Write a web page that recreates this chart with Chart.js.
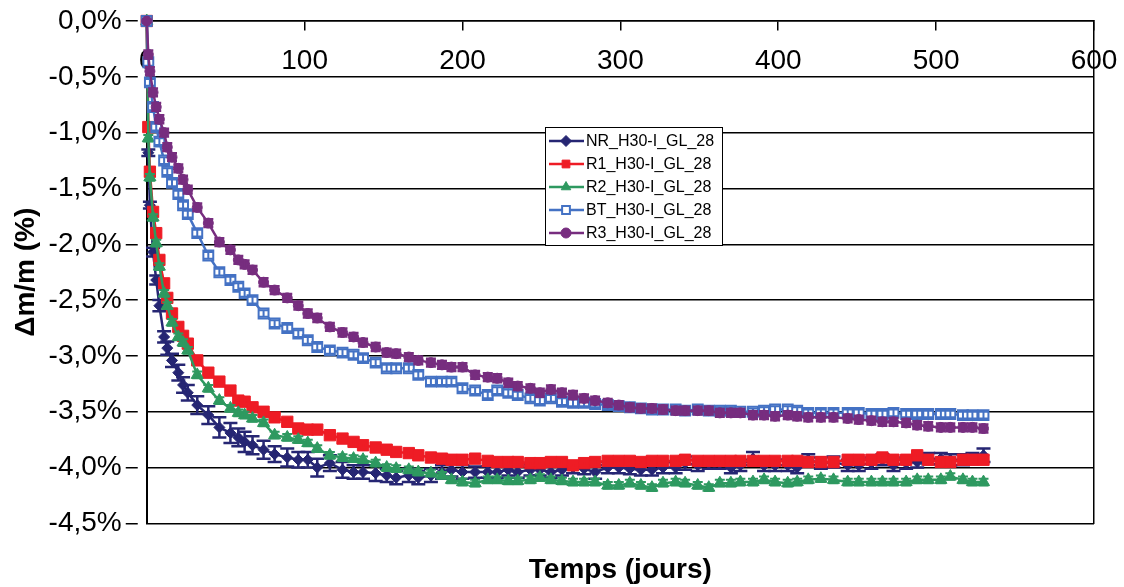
<!DOCTYPE html>
<html>
<head>
<meta charset="utf-8">
<script src="https://cdn.jsdelivr.net/npm/chart.js@4.4.1/dist/chart.umd.min.js"></script>
<style>
html,body{margin:0;padding:0;background:#fff;}
canvas{display:block;}
</style>
</head>
<body>
<canvas id="c" width="1124" height="587"></canvas>
<script>
// ---------------- DATA ----------------
const DAYS = [
  0,1,2,4,6,8,11,13,16,20,
  23,26,32,39,46,53,58,62,67,74,
  81,89,96,102,108,116,124,131,137,145,
  152,158,166,172,180,187,193,200,208,216,
  222,229,235,243,249,256,263,270,277,284,
  292,299,306,313,320,327,335,341,349,356,
  363,370,376,384,391,398,406,412,419,427,
  435,444,451,459,466,473,481,488,495,503,
  509,517,523,530
];

const LABELS = ['NR_H30-I_GL_28','R1_H30-I_GL_28','R2_H30-I_GL_28','BT_H30-I_GL_28','R3_H30-I_GL_28'];

const NR = [
  0,-1.18,-1.65,-2.07,-2.32,-2.55,-2.83,-2.93,-3.04,-3.15,
  -3.26,-3.33,-3.44,-3.53,-3.64,-3.69,-3.73,-3.77,-3.80,-3.84,
  -3.88,-3.91,-3.93,-3.93,-4.00,-3.96,-4.02,-4.04,-4.04,-4.05,
  -4.07,-4.09,-4.07,-4.09,-4.07,-4.04,-4.02,-4.04,-4.04,-4.04,
  -4.04,-4.02,-4.04,-4.02,-4.02,-4.04,-4.02,-4.00,-4.01,-4.04,
  -4.00,-4.00,-4.01,-4.02,-4.02,-4.00,-4.00,-3.96,-3.98,-3.96,
  -3.96,-4.00,-3.98,-3.92,-3.98,-3.98,-3.98,-4.00,-3.93,-3.96,
  -3.95,-3.98,-3.98,-3.96,-3.93,-3.98,-3.96,-3.95,-3.92,-3.92,
  -3.93,-3.93,-3.92,-3.89
];
const R1 = [
  0,-0.95,-1.35,-1.71,-1.90,-2.14,-2.35,-2.48,-2.62,-2.74,
  -2.82,-2.89,-3.04,-3.15,-3.23,-3.31,-3.40,-3.41,-3.46,-3.50,
  -3.55,-3.59,-3.65,-3.66,-3.66,-3.71,-3.74,-3.77,-3.80,-3.82,
  -3.84,-3.86,-3.87,-3.89,-3.91,-3.92,-3.93,-3.93,-3.92,-3.94,
  -3.95,-3.95,-3.95,-3.96,-3.96,-3.95,-3.95,-3.98,-3.96,-3.95,
  -3.94,-3.94,-3.94,-3.95,-3.94,-3.94,-3.94,-3.93,-3.94,-3.94,
  -3.94,-3.94,-3.94,-3.94,-3.94,-3.94,-3.94,-3.94,-3.95,-3.95,
  -3.95,-3.93,-3.93,-3.93,-3.91,-3.93,-3.93,-3.89,-3.93,-3.95,
  -3.95,-3.93,-3.93,-3.93
];
const R2 = [
  0,-1.05,-1.40,-1.76,-1.99,-2.20,-2.44,-2.55,-2.70,-2.83,
  -2.88,-2.95,-3.17,-3.29,-3.40,-3.47,-3.51,-3.53,-3.56,-3.60,
  -3.71,-3.73,-3.75,-3.78,-3.83,-3.89,-3.91,-3.92,-3.93,-3.96,
  -4.00,-4.01,-4.02,-4.04,-4.05,-4.07,-4.11,-4.13,-4.14,-4.11,
  -4.11,-4.12,-4.12,-4.11,-4.09,-4.11,-4.12,-4.13,-4.13,-4.13,
  -4.16,-4.16,-4.14,-4.16,-4.18,-4.14,-4.13,-4.14,-4.16,-4.18,
  -4.14,-4.14,-4.13,-4.13,-4.11,-4.13,-4.14,-4.13,-4.11,-4.10,
  -4.11,-4.13,-4.13,-4.13,-4.13,-4.13,-4.13,-4.11,-4.11,-4.11,
  -4.08,-4.11,-4.13,-4.13
];
const BT = [
  0,-0.37,-0.55,-0.77,-0.95,-1.08,-1.25,-1.35,-1.45,-1.55,
  -1.65,-1.73,-1.90,-2.10,-2.25,-2.32,-2.38,-2.44,-2.50,-2.62,
  -2.71,-2.75,-2.80,-2.86,-2.92,-2.95,-2.97,-2.99,-3.02,-3.06,
  -3.11,-3.11,-3.11,-3.17,-3.23,-3.23,-3.23,-3.29,-3.31,-3.35,
  -3.31,-3.33,-3.35,-3.38,-3.40,-3.38,-3.41,-3.42,-3.42,-3.43,
  -3.44,-3.45,-3.46,-3.47,-3.48,-3.48,-3.48,-3.49,-3.48,-3.49,
  -3.49,-3.49,-3.50,-3.50,-3.49,-3.48,-3.48,-3.49,-3.51,-3.51,
  -3.51,-3.51,-3.51,-3.52,-3.52,-3.51,-3.52,-3.52,-3.52,-3.52,
  -3.52,-3.53,-3.53,-3.53
];
const R3 = [
  0,-0.30,-0.45,-0.64,-0.77,-0.88,-1.00,-1.13,-1.22,-1.32,
  -1.42,-1.51,-1.67,-1.81,-1.98,-2.05,-2.14,-2.18,-2.23,-2.34,
  -2.41,-2.48,-2.55,-2.62,-2.66,-2.74,-2.79,-2.83,-2.88,-2.92,
  -2.97,-2.98,-3.01,-3.04,-3.06,-3.08,-3.10,-3.10,-3.17,-3.19,
  -3.20,-3.24,-3.27,-3.29,-3.33,-3.30,-3.33,-3.35,-3.38,-3.40,
  -3.42,-3.44,-3.46,-3.47,-3.47,-3.48,-3.49,-3.49,-3.49,-3.49,
  -3.51,-3.51,-3.51,-3.53,-3.53,-3.54,-3.53,-3.54,-3.55,-3.55,
  -3.55,-3.56,-3.57,-3.58,-3.59,-3.59,-3.60,-3.62,-3.63,-3.64,
  -3.64,-3.64,-3.64,-3.65
];

// error bar half-heights (in % points)
const NR_ERR = [
  0,0.03,0.03,0.04,0.04,0.05,0.05,0.06,0.06,0.07,
  0.07,0.07,0.08,0.08,0.09,0.09,0.08,0.09,0.08,0.08,
  0.07,0.08,0.07,0.07,0.08,0.07,0.07,0.06,0.06,0.07,
  0.06,0.06,0.06,0.06,0.06,0.06,0.06,0.06,0.05,0.05,
  0.05,0.05,0.05,0.05,0.05,0.05,0.05,0.05,0.05,0.06,
  0.05,0.05,0.05,0.05,0.05,0.05,0.05,0.06,0.05,0.05,
  0.05,0.05,0.05,0.06,0.05,0.05,0.05,0.05,0.05,0.05,
  0.05,0.05,0.05,0.05,0.05,0.05,0.05,0.05,0.05,0.05,
  0.05,0.05,0.05,0.06
];
const R1_ERR = [
  0,0.02,0.02,0.02,0.02,0.02,0.02,0.02,0.02,0.02,
  0.02,0.02,0.02,0.02,0.02,0.02,0.02,0.02,0.02,0.02,
  0.02,0.02,0.02,0.02,0.02,0.02,0.02,0.02,0.02,0.02,
  0.02,0.02,0.02,0.02,0.02,0.02,0.02,0.02,0.02,0.02,
  0.02,0.02,0.02,0.02,0.02,0.02,0.02,0.02,0.02,0.02,
  0.02,0.02,0.02,0.02,0.02,0.02,0.02,0.02,0.02,0.02,
  0.02,0.02,0.02,0.02,0.02,0.02,0.02,0.02,0.02,0.02,
  0.02,0.02,0.02,0.02,0.02,0.02,0.02,0.02,0.02,0.02,
  0.02,0.02,0.02,0.02
];
const R2_ERR = [
  0,0.03,0.03,0.03,0.03,0.03,0.03,0.03,0.03,0.03,
  0.03,0.03,0.03,0.03,0.03,0.03,0.03,0.03,0.03,0.03,
  0.03,0.03,0.03,0.03,0.03,0.03,0.03,0.03,0.03,0.03,
  0.03,0.03,0.03,0.03,0.03,0.03,0.03,0.03,0.03,0.03,
  0.03,0.03,0.03,0.03,0.03,0.03,0.03,0.03,0.03,0.03,
  0.03,0.03,0.03,0.03,0.03,0.03,0.03,0.03,0.03,0.03,
  0.03,0.03,0.03,0.03,0.03,0.03,0.03,0.03,0.03,0.03,
  0.03,0.03,0.03,0.03,0.03,0.03,0.03,0.03,0.03,0.03,
  0.03,0.03,0.03,0.03
];
const BT_ERR = [
  0,0.03,0.03,0.03,0.03,0.03,0.03,0.03,0.03,0.03,
  0.03,0.03,0.03,0.03,0.03,0.03,0.03,0.03,0.03,0.03,
  0.03,0.03,0.03,0.03,0.03,0.03,0.03,0.03,0.03,0.03,
  0.03,0.03,0.03,0.03,0.03,0.03,0.03,0.03,0.03,0.03,
  0.03,0.03,0.03,0.03,0.03,0.03,0.03,0.03,0.03,0.03,
  0.03,0.03,0.03,0.03,0.03,0.03,0.03,0.03,0.03,0.03,
  0.03,0.03,0.03,0.03,0.03,0.03,0.03,0.03,0.03,0.03,
  0.03,0.03,0.03,0.03,0.03,0.03,0.03,0.03,0.03,0.03,
  0.03,0.03,0.03,0.03
];
const R3_ERR = [
  0,0.035,0.035,0.035,0.035,0.035,0.035,0.035,0.035,0.035,
  0.035,0.035,0.035,0.035,0.035,0.035,0.035,0.035,0.035,0.035,
  0.035,0.035,0.035,0.035,0.035,0.035,0.035,0.035,0.035,0.035,
  0.035,0.035,0.035,0.035,0.035,0.035,0.035,0.035,0.035,0.035,
  0.035,0.035,0.035,0.035,0.035,0.035,0.035,0.035,0.035,0.035,
  0.035,0.035,0.035,0.035,0.035,0.035,0.035,0.035,0.035,0.035,
  0.035,0.035,0.035,0.035,0.035,0.035,0.035,0.035,0.035,0.035,
  0.035,0.035,0.035,0.035,0.035,0.035,0.035,0.035,0.035,0.035,
  0.035,0.035,0.035,0.035
];

const X_MIN = 0, X_MAX = 600, X_STEP = 100;
const Y_MIN = -4.5, Y_MAX = 0, Y_STEP = 0.5;
const X_TITLE = 'Temps (jours)';
const Y_TITLE = 'Δm/m (%)';

// ---------------- CHART ----------------
const FONT = "'Liberation Sans', Arial, sans-serif";
const toXY = vals => DAYS.map((d, i) => ({x: d, y: vals[i]}));

const STYLES = [
  {color:'#262673', style:'rectRot',  radius:5.5, bg:'#262673', bw:1, cap:7, ew:2.5, order:5},
  {color:'#EE1C25', style:'rect',     radius:8,   bg:'#EE1C25', bw:1, cap:5, ew:2,   order:4},
  {color:'#2E9960', style:'triangle', radius:7,   bg:'#2E9960', bw:1, cap:5, ew:2,   order:3},
  {color:'#4472C4', style:'rect',     radius:7,   bg:'#FFFFFF', bw:2, cap:5, ew:2,   order:2},
  {color:'#772D7F', style:'circle',   radius:5,   bg:'#772D7F', bw:1, cap:5, ew:2.5, order:1}
];
const VALUES = [NR, R1, R2, BT, R3];
const ERRORS = [NR_ERR, R1_ERR, R2_ERR, BT_ERR, R3_ERR];

const datasets = LABELS.map((lab, k) => ({
  label: lab,
  data: toXY(VALUES[k]),
  errors: ERRORS[k],
  errorCap: STYLES[k].cap,
  errorWidth: STYLES[k].ew,
  borderColor: STYLES[k].color,
  backgroundColor: STYLES[k].bg,
  borderWidth: 2.5,
  pointStyle: STYLES[k].style,
  pointRadius: STYLES[k].radius,
  pointBackgroundColor: STYLES[k].bg,
  pointBorderColor: STYLES[k].color,
  pointBorderWidth: STYLES[k].bw,
  tension: 0,
  order: STYLES[k].order,
  clip: 10
}));

const errorBars = {
  id: 'errorBars',
  afterDatasetDraw(chart, args) {
    const ds = chart.data.datasets[args.index];
    if (!ds.errors) return;
    const ctx = chart.ctx, ys = chart.scales.y;
    ctx.save();
    ctx.strokeStyle = ds.borderColor;
    ctx.lineWidth = ds.errorWidth;
    args.meta.data.forEach((pt, i) => {
      const e = ds.errors[i];
      if (!e) return;
      const v = ds.data[i].y;
      const x = pt.x, y1 = ys.getPixelForValue(v + e), y2 = ys.getPixelForValue(v - e);
      const c = ds.errorCap;
      ctx.beginPath();
      ctx.moveTo(x, y1); ctx.lineTo(x, y2);
      ctx.moveTo(x - c, y1); ctx.lineTo(x + c, y1);
      ctx.moveTo(x - c, y2); ctx.lineTo(x + c, y2);
      ctx.stroke();
    });
    ctx.restore();
  }
};

function drawMarker(ctx, style, r, x, y) {
  ctx.beginPath();
  if (style === 'circle') {
    ctx.arc(x, y, r, 0, Math.PI * 2);
  } else if (style === 'rect') {
    const s = Math.SQRT1_2 * r;
    ctx.rect(x - s, y - s, 2 * s, 2 * s);
  } else if (style === 'rectRot') {
    ctx.moveTo(x, y - r); ctx.lineTo(x + r, y); ctx.lineTo(x, y + r); ctx.lineTo(x - r, y); ctx.closePath();
  } else if (style === 'triangle') {
    const t = 2 * Math.PI / 3;
    ctx.moveTo(x, y - r);
    ctx.lineTo(x + Math.sin(t) * r, y - Math.cos(t) * r);
    ctx.lineTo(x + Math.sin(2 * t) * r, y - Math.cos(2 * t) * r);
    ctx.closePath();
  }
  ctx.fill();
  ctx.stroke();
}

const boxLegend = {
  id: 'boxLegend',
  afterDraw(chart) {
    const ctx = chart.ctx;
    const bx = 545, by = 127, bw = 177, bh = 118;
    ctx.save();
    ctx.fillStyle = '#fff';
    ctx.fillRect(bx, by, bw, bh);
    ctx.strokeStyle = '#000';
    ctx.lineWidth = 1;
    ctx.strokeRect(bx + 0.5, by + 0.5, bw, bh);
    ctx.font = '16px ' + FONT;
    ctx.textBaseline = 'middle';
    ctx.textAlign = 'left';
    chart.data.datasets.forEach((ds, i) => {
      const y = by + 14 + i * 23;
      ctx.strokeStyle = ds.borderColor;
      ctx.lineWidth = 2.5;
      ctx.beginPath(); ctx.moveTo(bx + 4, y); ctx.lineTo(bx + 39, y); ctx.stroke();
      ctx.fillStyle = ds.pointBackgroundColor;
      ctx.strokeStyle = ds.pointBorderColor;
      ctx.lineWidth = ds.pointBorderWidth;
      drawMarker(ctx, ds.pointStyle, Math.min(ds.pointRadius, 5.5), bx + 21, y);
      ctx.fillStyle = '#000';
      ctx.fillText(ds.label, bx + 41, y + 1);
    });
    ctx.restore();
  }
};

new Chart(document.getElementById('c'), {
  type: 'line',
  data: { datasets },
  plugins: [errorBars, boxLegend],
  options: {
    responsive: false,
    animation: false,
    devicePixelRatio: 1,
    layout: { padding: { left: 2, right: 30, top: 21, bottom: 0 } },
    plugins: { legend: { display: false }, tooltip: { enabled: false } },
    scales: {
      x: {
        type: 'linear',
        position: { y: 0 },
        min: X_MIN, max: X_MAX,
        ticks: { stepSize: X_STEP, color: '#000', font: { family: FONT, size: 28 }, padding: 2, maxRotation: 0 },
        grid: { drawOnChartArea: false, drawTicks: true, tickLength: 21, tickBorderDash: [9, 100], color: '#000', lineWidth: 1.5 },
        border: { display: true, color: '#000', width: 1.5 }
      },
      xb: {
        type: 'linear', axis: 'x', position: 'bottom',
        min: X_MIN, max: X_MAX,
        ticks: { display: false },
        grid: { display: false, drawTicks: false },
        border: { display: false },
        title: { display: true, text: X_TITLE, color: '#000', font: { family: FONT, size: 28, weight: 'bold' }, padding: { top: 30, bottom: 0 } }
      },
      y: {
        type: 'linear', position: 'left',
        min: Y_MIN, max: Y_MAX,
        ticks: {
          stepSize: Y_STEP, color: '#000', padding: 4,
          font: { family: FONT, size: 28 },
          callback: v => (Math.abs(v) < 1e-9 ? 0 : v).toFixed(1).replace('.', ',') + '%'
        },
        grid: { color: '#000', lineWidth: 1.5, drawTicks: true, tickLength: 21, tickBorderDash: [12, 100], tickBorderDashOffset: 0, tickColor: '#000' },
        border: { display: true, color: '#000', width: 2 },
        title: { display: true, text: Y_TITLE, color: '#000', font: { family: FONT, size: 28, weight: 'bold' }, padding: { top: 7, bottom: 2 } }
      },
      yr: {
        type: 'linear', axis: 'y', position: 'right',
        min: Y_MIN, max: Y_MAX,
        ticks: { display: false },
        grid: { display: false, drawTicks: false },
        border: { display: true, color: '#000', width: 1.5 }
      }
    }
  }
});
</script>
</body>
</html>
